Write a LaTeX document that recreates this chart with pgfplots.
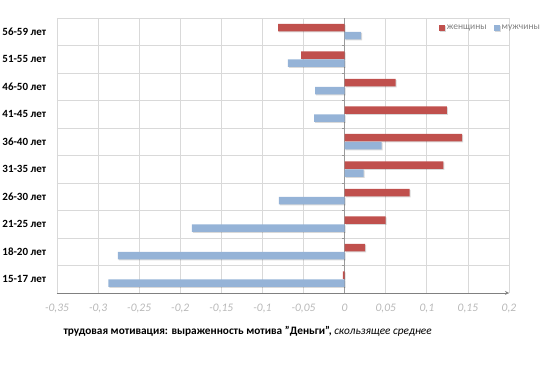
\documentclass[border=0pt]{standalone}
\usepackage{fontspec}
\setmainfont{Carlito}
\usepackage{pgfplots}
\pgfplotsset{compat=1.18}
\definecolor{wred}{HTML}{C0504D}
\definecolor{mblue}{HTML}{95B3D7}
\definecolor{gridc}{HTML}{D9D9D9}
\definecolor{tickc}{HTML}{B8B8B8}
\begin{document}
\begin{tikzpicture}
\useasboundingbox (0pt,0pt) rectangle (550pt,371pt);
\begin{axis}[
  at={(57pt,78pt)}, anchor=south west,
  scale only axis, width=452pt, height=275pt,
  xmin=-0.35, xmax=0.2, ymin=-0.5, ymax=9.5,
  xtick={-0.35,-0.3,-0.25,-0.2,-0.15,-0.1,-0.05,0,0.05,0.1,0.15,0.2},
  ytick={0,1,2,3,4,5,6,7,8,9},
  yticklabels={15-17 лет,18-20 лет,21-25 лет,26-30 лет,31-35 лет,36-40 лет,41-45 лет,46-50 лет,51-55 лет,56-59 лет},
  minor ytick={-0.5,0.5,1.5,2.5,3.5,4.5,5.5,6.5,7.5,8.5,9.5},
  xmajorgrids, yminorgrids,
  grid style={gridc, line width=0.8pt},
  minor grid style={gridc, line width=0.8pt},
  axis x line=bottom, axis y line*=left,
  x axis line style={draw=gray, line width=0.8pt},
  y axis line style={draw=gridc, line width=0.8pt},
  xtick style={draw=none}, ytick style={draw=none}, minor tick style={draw=none},
  /pgf/number format/.cd, use comma, fixed, precision=2, assume math mode=true,
  /pgfplots/.cd,
  xticklabel style={font=\fontsize{11.5}{12}\selectfont\itshape, text=tickc, yshift=-5pt},
  yticklabel style={font=\fontsize{11}{12}\selectfont\bfseries, text=black, xshift=-3pt},
  legend style={at={(rel axis cs:1.08,0.99)}, anchor=north east, draw=none, fill=none,
    legend columns=2, font=\fontsize{9.5}{10}\selectfont, text=gray,
    /tikz/every even column/.append style={column sep=5pt}},
  xbar, bar width=7.5pt,
]
\draw[gray!80, line width=0.8pt] (axis cs:0,-0.5) -- (axis cs:0,9.5);
\pgfplotsinvokeforeach{-0.5,0.5,1.5,2.5,3.5,4.5,5.5,6.5,7.5,8.5}{
  \draw[gray!80, line width=0.6pt] (axis cs:0,#1) -- ++(-2.5pt,0pt);
}
\addplot[fill=wred, draw=none, bar shift=4pt,
  preaction={fill=black, opacity=0.15, transform canvas={shift={(1pt,-1pt)}}},
  legend image code/.code={\fill[wred] (0pt,-3pt) rectangle (6pt,3pt);}]
  coordinates {(-0.002,0) (0.025,1) (0.050,2) (0.079,3) (0.120,4) (0.143,5) (0.1245,6) (0.062,7) (-0.053,8) (-0.081,9)};
\addlegendentry{женщины}
\addplot[fill=mblue, draw=none, bar shift=-4pt,
  preaction={fill=black, opacity=0.15, transform canvas={shift={(1pt,-1pt)}}},
  legend image code/.code={\fill[mblue] (0pt,-3pt) rectangle (6pt,3pt);}]
  coordinates {(-0.2875,0) (-0.276,1) (-0.186,2) (-0.080,3) (0.023,4) (0.045,5) (-0.037,6) (-0.036,7) (-0.069,8) (0.020,9)};
\addlegendentry{мужчины}
\end{axis}
\node[anchor=west, font=\fontsize{11.3}{12}\selectfont\bfseries] at (60pt,40pt)
  {трудовая мотивация: выраженность мотива "Деньги", {\mdseries\itshape скользящее среднее}};
\end{tikzpicture}
\end{document}
